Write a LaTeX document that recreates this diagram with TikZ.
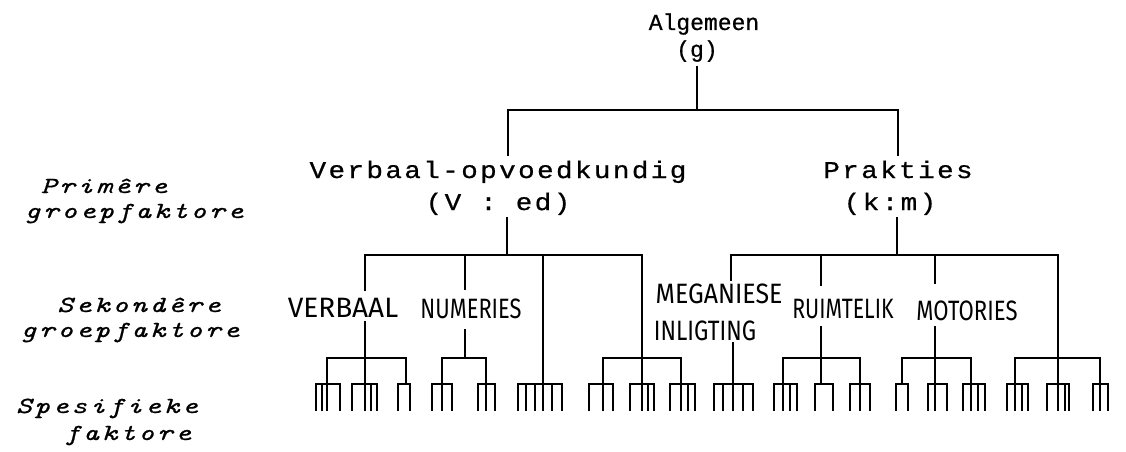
\documentclass[tikz,border=0pt]{standalone}
\usepackage{graphicx}
\usepackage{fontspec}
\newfontfamily\typer[FakeBold=0.7]{Liberation Mono}
\newfontfamily\typerwide[LetterSpace=10, FakeStretch=1.15, FakeBold=0.7]{Liberation Mono}
\newfontfamily\typeit[LetterSpace=12, FakeStretch=1.3, FakeBold=0.8]{lmmono10-italic.otf}
\newfontfamily\hand{Fira Sans}
\newcommand\squeeze[2]{\scalebox{#1}[1]{#2}}

\tikzset{
  link/.style={line width=1.6pt, line cap=rect},
  trunk/.style={line width=2.1pt, line cap=rect},
  toplabel/.style={font=\typer\fontsize{23}{27}\selectfont, anchor=base, inner sep=0pt},
  primlabel/.style={font=\typerwide\fontsize{24}{28}\selectfont, anchor=base, inner sep=0pt},
  levellabel/.style={font=\typeit\fontsize{23}{27}\selectfont, anchor=base, inner sep=0pt},
  seclabel/.style={font=\hand\fontsize{28}{32}\selectfont, anchor=base, inner sep=0pt},
}

% a small fork of specific factors: bar from #1 to #2, tines at #3
\newcommand\specfork[3]{%
  \draw[link] (#1,384) -- (#2,384);
  \foreach \t in {#3} \draw[link] (\t,384) -- (\t,410);
}

\begin{document}
\begin{tikzpicture}[x=1pt, y=-1pt]
\useasboundingbox (0,0) rectangle (1126,452);

% ---- level labels on the left
\node[levellabel] (lp1) at (104,193) {Primêre};
\node[levellabel] (lp2) at (134,218) {groepfaktore};
\node[levellabel] (ls1) at (139,312) {Sekondêre};
\node[levellabel] (ls2) at (130,337) {groepfaktore};
\node[levellabel] (lf1) at (107,413) {Spesifieke};
\node[levellabel] (lf2) at (128,440) {faktore};

% ---- general factor
\node[toplabel] (alg)  at (704,30) {Algemeen};
\node[toplabel] (algg) at (697,57) {(g)};

% ---- primary group factors
\node[primlabel] (ved)  at (498,178) {Verbaal-opvoedkundig};
\node[primlabel] (ved2) at (498,210) {(V : ed)};
\node[primlabel] (km)   at (898,178) {Prakties};
\node[primlabel] (km2)  at (890,210) {(k:m)};

% ---- secondary group factors
\node[seclabel] (sverb) at (343,317) {\squeeze{1.0}{VERBAAL}};
\node[seclabel] (snum)  at (471,318) {\squeeze{0.78}{NUMERIES}};
\node[seclabel] (smeg)  at (719,303) {\squeeze{0.89}{MEGANIESE}};
\node[seclabel] (smeg2) at (705,340) {\squeeze{0.81}{INLIGTING}};
\node[seclabel] (sruim) at (843,318) {\squeeze{0.76}{RUIMTELIK}};
\node[seclabel] (smot)  at (967,320) {\squeeze{0.79}{MOTORIES}};

% ---- junction points
\coordinate (g0)  at (697,67);
\coordinate (g1)  at (697,110);
\coordinate (gl)  at (508,110);
\coordinate (gr)  at (898,110);
\coordinate (vTop) at (508,155);
\coordinate (kTop) at (898,155);
\coordinate (v0)  at (507,218);
\coordinate (v1)  at (507,255);
\coordinate (vl)  at (365,255);
\coordinate (vr)  at (642,255);
\coordinate (k0)  at (897,218);
\coordinate (k1)  at (897,255);
\coordinate (kl)  at (731,255);
\coordinate (kr)  at (1058,255);

% ---- general to primary
\draw[trunk] (g0) -- (g1);
\draw[trunk] (gl) -- (gr);
\draw[trunk] (gl) -- (vTop);
\draw[trunk] (gr) -- (kTop);

% ---- primary to secondary
\draw[trunk] (v0) -- (v1);
\draw[link] (vl) -- (vr);
\draw[trunk] (k0) -- (k1);
\draw[link] (kl) -- (kr);

% verbal-educational branches
\draw[link] (vl) -- (365,290);
\draw[link] (365,322) -- (365,358);
\draw[link] (465,255) -- (465,289);
\draw[link] (465,330) -- (465,358);
\draw[link] (543,255) -- (543,384);
\draw[link] (vr) -- (642,358);

% practical branches
\draw[link] (kl) -- (731,280);
\draw[link] (733,343) -- (733,384);
\draw[link] (821,255) -- (821,285);
\draw[link] (821,327) -- (821,358);
\draw[link] (935,255) -- (935,283);
\draw[link] (935,327) -- (935,358);
\draw[link] (kr) -- (1058,358);

% ---- secondary to specific
\draw[link] (327,358) -- (406,358);
\foreach \p in {327,365,406} \draw[link] (\p,358) -- (\p,384);
\draw[link] (442,358) -- (486,358);
\foreach \p in {442,486} \draw[link] (\p,358) -- (\p,384);
\draw[link] (603,358) -- (681,358);
\foreach \p in {603,642,681} \draw[link] (\p,358) -- (\p,384);
\draw[link] (783,358) -- (860,358);
\foreach \p in {783,821,860} \draw[link] (\p,358) -- (\p,384);
\draw[link] (902,358) -- (971,358);
\foreach \p in {902,935,971} \draw[link] (\p,358) -- (\p,384);
\draw[link] (1015,358) -- (1100,358);
\foreach \p in {1015,1058,1100} \draw[link] (\p,358) -- (\p,384);

% ---- specific factors
\specfork{316}{340}{316,322,327,340}
\specfork{352}{377}{352,365,371,377}
\specfork{398}{410}{398,410}
\specfork{432}{452}{432,442,452}
\specfork{478}{495}{478,486,495}
\specfork{518}{562}{518,526,535,543,552,562}
\specfork{589}{613}{589,603,613}
\specfork{630}{654}{630,642,648,654}
\specfork{670}{695}{670,681,688,695}
\specfork{714}{753}{714,723,733,743,753}
\specfork{774}{797}{774,783,790,797}
\specfork{815}{833}{815,833}
\specfork{850}{870}{850,860,870}
\specfork{896}{908}{896,908}
\specfork{928}{947}{928,935,947}
\specfork{963}{985}{963,971,978,985}
\specfork{1007}{1028}{1007,1015,1022,1028}
\specfork{1047}{1069}{1047,1058,1065,1069}
\specfork{1093}{1108}{1093,1100,1108}

\end{tikzpicture}
\end{document}
